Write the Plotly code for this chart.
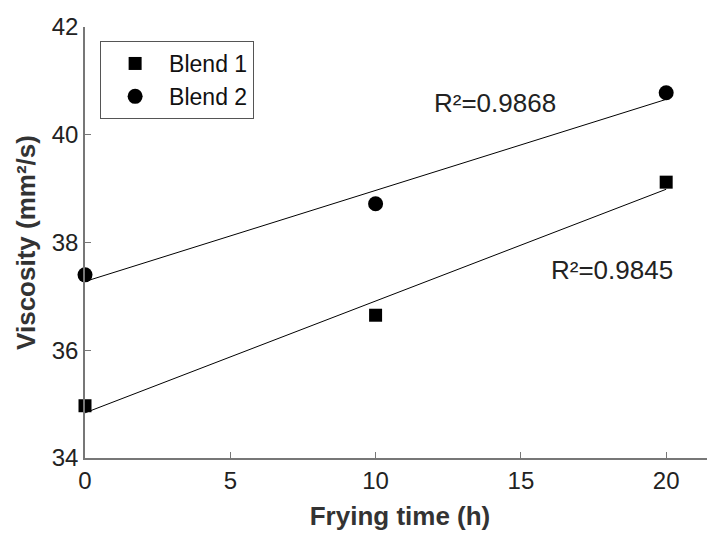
import numpy as np
import plotly.graph_objects as go

frying_time = [0, 10, 20]
blend1 = [34.97, 36.65, 39.12]
blend2 = [37.40, 38.72, 40.78]
r2_blend1 = "R²=0.9845"
r2_blend2 = "R²=0.9868"
x_ticks = [0, 5, 10, 15, 20]
y_ticks = [34, 36, 38, 40, 42]

FONT = "Liberation Sans, Arial, sans-serif"

fig = go.Figure()

x_arr = np.array(frying_time, dtype=float)
for ys in (blend1, blend2):
    k, b = np.polyfit(x_arr, np.array(ys), 1)
    fig.add_trace(go.Scatter(x=frying_time, y=list(k * x_arr + b), mode="lines",
                             line=dict(color="black", width=1), showlegend=False,
                             hoverinfo="skip", cliponaxis=False))

fig.add_trace(go.Scatter(x=frying_time, y=blend1, mode="markers", name="Blend 1",
                         marker=dict(symbol="square", size=13, color="black"),
                         cliponaxis=False))
fig.add_trace(go.Scatter(x=frying_time, y=blend2, mode="markers", name="Blend 2",
                         marker=dict(symbol="circle", size=15, color="black"),
                         cliponaxis=False))

fig.add_annotation(x=14.1, y=40.59, xref="x", yref="y", text=r2_blend2, showarrow=False,
                   xanchor="center", yanchor="middle", font=dict(size=26, color="#222", family=FONT))
fig.add_annotation(x=18.13, y=37.49, xref="x", yref="y", text=r2_blend1, showarrow=False,
                   xanchor="center", yanchor="middle", font=dict(size=26, color="#222", family=FONT))

axis_common = dict(showline=True, linecolor="#777", linewidth=1.5, ticks="inside",
                   ticklen=6, tickcolor="#777", tickwidth=1, showgrid=False, zeroline=False,
                   automargin=False,
                   tickfont=dict(size=24, color="#222", family=FONT))

fig.update_xaxes(range=[0, 21.68], tickvals=x_ticks,
                 title=dict(text="<b>Frying time (h)</b>", font=dict(size=26, color="#333", family=FONT), standoff=14),
                 **axis_common)
fig.update_yaxes(range=[34, 42], tickvals=y_ticks,
                 title=dict(text="<b>Viscosity (mm²/s)</b>", font=dict(size=26, color="#333", family=FONT), standoff=9),
                 **axis_common)

fig.update_layout(
    width=715, height=533,
    margin=dict(l=77, r=8, t=19, b=83),
    plot_bgcolor="white", paper_bgcolor="white",
    legend=dict(x=0.024, y=0.9675, xanchor="left", yanchor="top",
                bordercolor="#555", borderwidth=1, bgcolor="white",
                font=dict(size=23, color="#111", family=FONT),
                itemwidth=58, tracegroupgap=0),
    showlegend=True,
)

fig.write_html("out.html")
